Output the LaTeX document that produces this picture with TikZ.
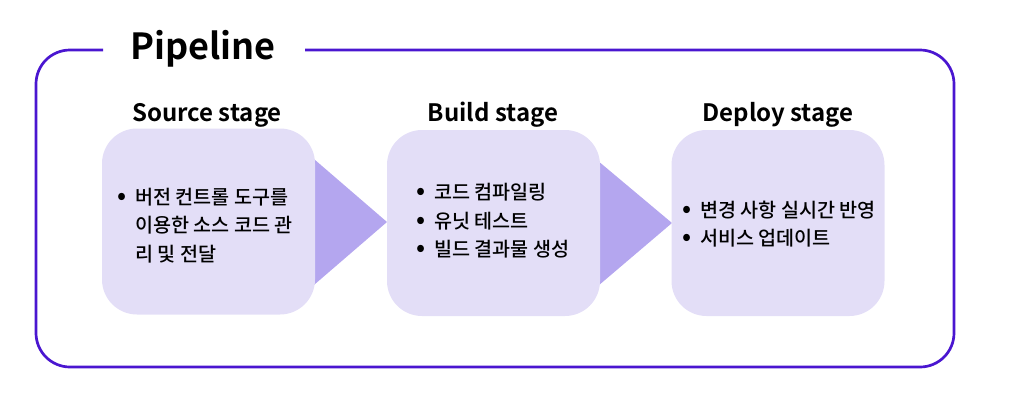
\documentclass[tikz,border=0pt]{standalone}
\usepackage{fontspec}
\setmainfont{Noto Sans CJK KR}[BoldFont={Noto Sans CJK KR Bold}]
\newfontfamily\medfont{Noto Sans CJK KR Medium}
\usetikzlibrary{calc}
\definecolor{frameC}{HTML}{4A16D0}
\definecolor{boxC}{HTML}{E3DEF7}
\definecolor{triC}{HTML}{B4A6EF}
\tikzset{
  stagebox/.style={fill=boxC, rounded corners=35pt, minimum width=213pt, minimum height=186pt, inner sep=0pt},
  stagetitle/.style={font=\fontsize{24}{28}\selectfont\bfseries, inner sep=0pt, anchor=base},
  arrowtri/.style={fill=triC},
  bodytext/.style={font=\medfont\fontsize{19.6}{28.5}\selectfont, align=left, inner sep=0pt, anchor=west},
}
\newcommand{\bul}{\makebox[18pt][l]{\scalebox{1.3}{•}}}
\begin{document}
\begin{tikzpicture}[x=1pt,y=-1pt]
\useasboundingbox (0,0) rectangle (1015,410);
% frame
\draw[frameC, line width=2.7pt, rounded corners=34pt] (103,50) -- (36,50) -- (36,367) -- (954,367) -- (954,50) -- (305,50);
\node[font=\fontsize{36}{42}\selectfont\bfseries, inner sep=0pt, anchor=base] (title) at (203,59) {Pipeline};
% triangles (behind boxes)
\coordinate (srcapex) at (387,222);
\coordinate (bldapex) at (672,223);
\fill[arrowtri] (300,147) -- (srcapex) -- (300,297) -- cycle;
\fill[arrowtri] (585,150) -- (bldapex) -- (585,297) -- cycle;
% boxes
\node[stagebox] (src) at (208.5,221.5) {};
\node[stagebox] (bld) at (493.5,223) {};
\node[stagebox] (dep) at (778,223) {};
% titles
\node[stagetitle] (srct) at (207,121) {Source stage};
\node[stagetitle] (bldt) at (493,121) {Build stage};
\node[stagetitle] (dept) at (778,121) {Deploy stage};
% texts
\node[bodytext] (srctx) at (117,225.5) {\bul 버전 컨트롤 도구를\\\hspace*{18pt}이용한 소스 코드 관\\\hspace*{18pt}리 및 전달};
\node[bodytext] (bldtx) at (416,221) {\bul 코드 컴파일링\\\bul 유닛 테스트\\\bul 빌드 결과물 생성};
\node[bodytext] (deptx) at (682,224) {\bul 변경 사항 실시간 반영\\\bul 서비스 업데이트};
\end{tikzpicture}
\end{document}
